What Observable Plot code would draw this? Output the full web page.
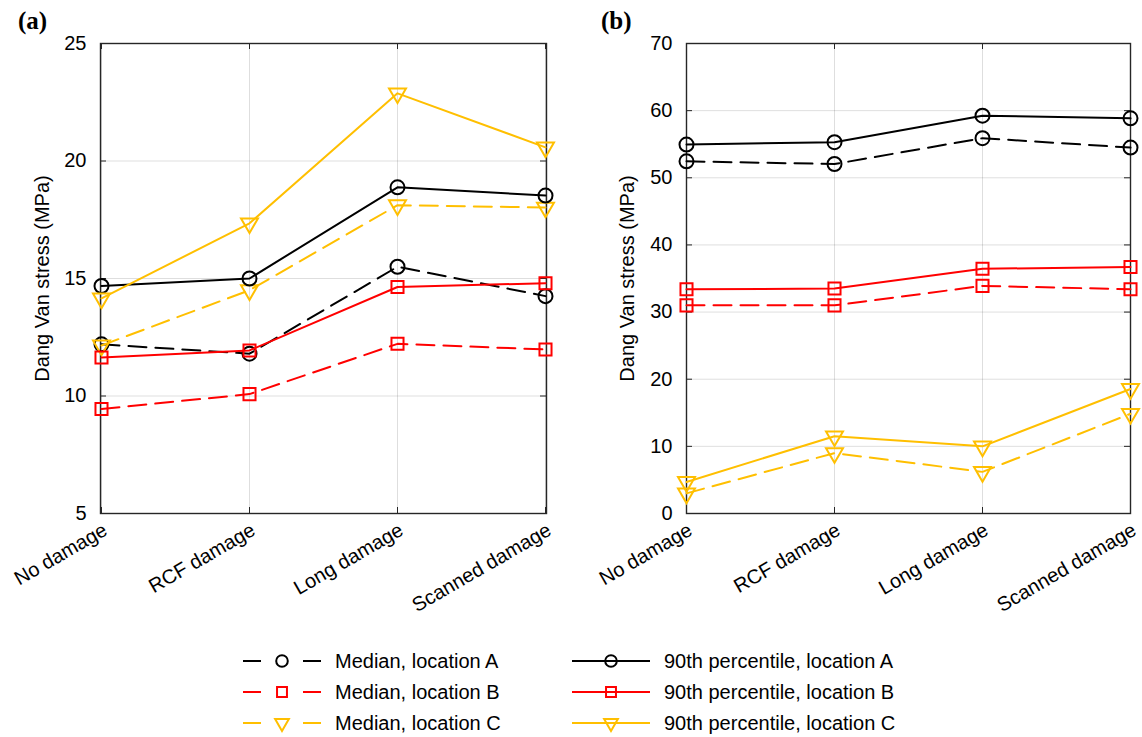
<!DOCTYPE html>
<html>
<head>
<meta charset="utf-8">
<script src="https://cdn.jsdelivr.net/npm/d3@7"></script>
<script src="https://cdn.jsdelivr.net/npm/@observablehq/plot@0.6"></script>
<style>
  html, body { margin: 0; padding: 0; background: #fff; }
  #root { position: relative; width: 1142px; height: 737px; overflow: hidden; font-family: "Liberation Sans", Arial, sans-serif; }
  .panel { position: absolute; top: 0; }
  .plabel { position: absolute; font-family: "Liberation Serif", "Times New Roman", serif; font-weight: bold; font-size: 25px; line-height: 25px; color: #000; }
  .item { position: absolute; display: flex; align-items: center; font-size: 20px; color: #000; white-space: nowrap; }
  .item svg { display: block; margin-right: 14px; }
</style>
</head>
<body>
<div id="root"></div>
<script>
// ---------- data ----------
const categories = ["No damage", "RCF damage", "Long damage", "Scanned damage"];

// Panel (a)
const a_medianA = [12.2, 11.8, 15.5, 14.25];
const a_medianB = [9.45, 10.08, 12.22, 11.98];
const a_medianC = [12.15, 14.5, 18.12, 18.02];
const a_p90A    = [14.68, 15.0, 18.88, 18.53];
const a_p90B    = [11.64, 11.94, 14.64, 14.8];
const a_p90C    = [14.15, 17.35, 22.88, 20.58];
const a_yTicks  = [5, 10, 15, 20, 25];

// Panel (b)
const b_medianA = [52.45, 52.05, 55.9, 54.5];
const b_medianB = [31.0, 31.0, 33.9, 33.4];
const b_medianC = [3.0, 9.0, 6.2, 14.85];
const b_p90A    = [54.95, 55.3, 59.25, 58.85];
const b_p90B    = [33.4, 33.5, 36.45, 36.7];
const b_p90C    = [4.7, 11.5, 10.0, 18.55];
const b_yTicks  = [0, 10, 20, 30, 40, 50, 60, 70];

const seriesNames = [
  "Median, location A", "Median, location B", "Median, location C",
  "90th percentile, location A", "90th percentile, location B", "90th percentile, location C"
];
const yLabel = "Dang Van stress (MPa)";

// ---------- styles ----------
const BLACK = "#000000", RED = "#ff0000", GOLD = "#ffbf00";
const styles = [
  {stroke: BLACK, dash: "18,9", symbol: "circle", r: 7, rotate: 0},
  {stroke: RED,   dash: "18,9", symbol: "square", r: 6.8, rotate: 0},
  {stroke: GOLD,  dash: "18,9", symbol: "triangle", r: 6.3, rotate: 180},
  {stroke: BLACK, dash: null,   symbol: "circle", r: 7, rotate: 0},
  {stroke: RED,   dash: null,   symbol: "square", r: 6.8, rotate: 0},
  {stroke: GOLD,  dash: null,   symbol: "triangle", r: 6.3, rotate: 180}
];

const root = document.getElementById("root");
const SVG_W = 571, SVG_H = 640, M_TOP = 43, M_BOTTOM = 127;
const FRAME = "#262626";

function makePanel(seriesValues, domain, yTicks, mLeft, mRight, labelOffset) {
  const W = SVG_W - mLeft - mRight;
  const H = SVG_H - M_TOP - M_BOTTOM;
  const marks = [
    Plot.gridX(categories, {stroke: "#000", strokeOpacity: 0.13, strokeWidth: 1}),
    Plot.gridY(yTicks, {stroke: "#000", strokeOpacity: 0.13, strokeWidth: 1}),
    Plot.frame({stroke: FRAME, strokeWidth: 1.4}),
    Plot.tickY(yTicks, {y: d => d, insetRight: W - 6, stroke: FRAME, strokeWidth: 1}),
    Plot.tickY(yTicks, {y: d => d, insetLeft: W - 6, stroke: FRAME, strokeWidth: 1}),
    Plot.tickX(categories, {x: d => d, insetTop: H - 6, stroke: FRAME, strokeWidth: 1}),
    Plot.tickX(categories, {x: d => d, insetBottom: H - 6, stroke: FRAME, strokeWidth: 1}),
    Plot.axisY(yTicks, {
      tickSize: 0, tickPadding: 14, fontSize: 20, fill: "#000",
      label: yLabel, labelAnchor: "center", labelArrow: "none", labelOffset: labelOffset
    }),
    Plot.axisX(categories, {
      tickSize: 0, tickPadding: 15, dx: 4, tickRotate: -30, fontSize: 20, fill: "#000", label: null
    })
  ];
  seriesValues.forEach((vals, i) => {
    const s = styles[i];
    const rows = categories.map((c, j) => ({cat: c, value: vals[j]}));
    marks.push(Plot.line(rows, {
      x: "cat", y: "value", stroke: s.stroke, strokeWidth: 2,
      strokeDasharray: s.dash || undefined
    }));
    marks.push(Plot.dot(rows, {
      x: "cat", y: "value", symbol: s.symbol, r: s.r, rotate: s.rotate,
      stroke: s.stroke, fill: "none", strokeWidth: 2
    }));
  });
  return Plot.plot({
    width: SVG_W, height: SVG_H,
    marginLeft: mLeft, marginRight: mRight, marginTop: M_TOP, marginBottom: M_BOTTOM,
    x: {type: "point", domain: categories, padding: 0},
    y: {domain: domain},
    style: {fontFamily: "'Liberation Sans', Arial, sans-serif", fontSize: "20px", color: "#000", background: "transparent", overflow: "visible"},
    marks
  });
}

const pa = makePanel([a_medianA, a_medianB, a_medianC, a_p90A, a_p90B, a_p90C], [5, 25], a_yTicks, 100, 25, 66);
pa.classList.add("panel"); pa.style.left = "0px";
root.appendChild(pa);

const pb = makePanel([b_medianA, b_medianB, b_medianC, b_p90A, b_p90B, b_p90C], [0, 70], b_yTicks, 115, 12, 67);
pb.classList.add("panel"); pb.style.left = "571px";
root.appendChild(pb);

// panel labels
[["(a)", 18], ["(b)", 601]].forEach(([t, x]) => {
  const d = document.createElement("div");
  d.className = "plabel"; d.textContent = t;
  d.style.left = x + "px"; d.style.top = "8px";
  root.appendChild(d);
});

// legend
const legendPos = [
  [243, 661], [243, 692], [243, 723],
  [572, 661], [572, 692], [572, 723]
];
seriesNames.forEach((name, i) => {
  const s = styles[i];
  const item = document.createElement("div");
  item.className = "item";
  item.style.left = legendPos[i][0] + "px";
  item.style.top = (legendPos[i][1] - 13) + "px";
  item.style.height = "26px";
  const ns = "http://www.w3.org/2000/svg";
  const svg = document.createElementNS(ns, "svg");
  svg.setAttribute("width", 78); svg.setAttribute("height", 26);
  const line = document.createElementNS(ns, "line");
  line.setAttribute("x1", 0); line.setAttribute("x2", 78);
  line.setAttribute("y1", 13); line.setAttribute("y2", 13);
  line.setAttribute("stroke", s.stroke); line.setAttribute("stroke-width", 2);
  if (s.dash) line.setAttribute("stroke-dasharray", "18,42");
  svg.appendChild(line);
  const sym = d3.symbol().type(
    s.symbol === "circle" ? d3.symbolCircle : s.symbol === "square" ? d3.symbolSquare : d3.symbolTriangle
  ).size(Math.PI * (s.r - 1.2) * (s.r - 1.2));
  const p = document.createElementNS(ns, "path");
  p.setAttribute("d", sym());
  p.setAttribute("transform", `translate(39,13) rotate(${s.rotate})`);
  p.setAttribute("fill", "none"); p.setAttribute("stroke", s.stroke); p.setAttribute("stroke-width", 2);
  svg.appendChild(p);
  item.appendChild(svg);
  const span = document.createElement("span");
  span.textContent = name;
  item.appendChild(span);
  root.appendChild(item);
});
</script>
</body>
</html>
